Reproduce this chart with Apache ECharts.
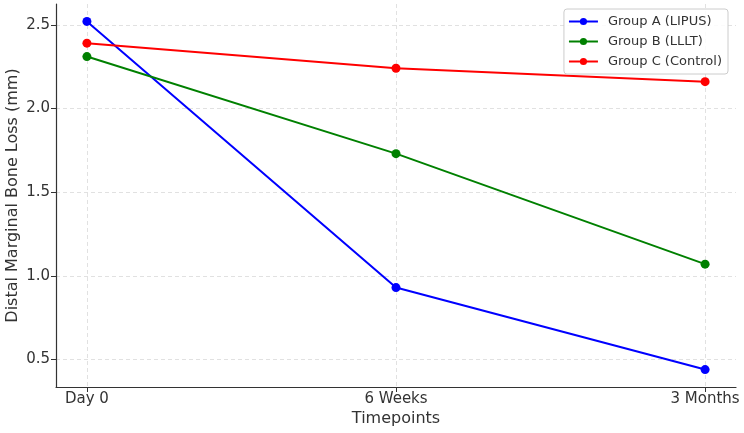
<!DOCTYPE html>
<html><head><meta charset="utf-8">
<script src="https://cdn.jsdelivr.net/npm/echarts@6/dist/echarts.min.js"></script>
<style>html,body{margin:0;padding:0;background:#fff}#c{width:744px;height:433px}</style>
</head><body><div id="c"></div>
<script>
const categories = ['Day 0', '6 Weeks', '3 Months'];
const groupA = [2.52, 0.93, 0.44];
const groupB = [2.31, 1.73, 1.07];
const groupC = [2.39, 2.24, 2.16];
const seriesNames = ['Group A (LIPUS)', 'Group B (LLLT)', 'Group C (Control)'];
const colors = ['#0000ff', '#008000', '#ff0000'];
const xTicks = [0, 1, 2];
const yTicks = [0.5, 1.0, 1.5, 2.0, 2.5];

const font = 'DejaVu Sans';
const chart = echarts.init(document.getElementById('c'), null, {renderer: 'canvas'});
const mk = (name, vals, color) => ({
  name, type: 'line', data: vals.map((v, i) => [i, v]),
  symbol: 'circle', symbolSize: 9, color,
  lineStyle: {width: 2, color}, itemStyle: {color},
  emphasis: {disabled: true}, z: 3
});
chart.setOption({
  animation: false,
  textStyle: {fontFamily: font},
  grid: {left: 56, right: 8, top: 4, bottom: 46, containLabel: false, outerBoundsMode: 'none'},
  legend: {
    orient: 'vertical', right: 16, top: 9,
    data: seriesNames,
    itemWidth: 29, itemHeight: 9, itemGap: 7,
    padding: [6, 6, 6, 4],
    borderColor: '#cccccc', borderWidth: 1, borderRadius: 3,
    backgroundColor: 'rgba(255,255,255,0.85)',
    textStyle: {fontFamily: font, fontSize: 13, color: '#333', padding: [0, 0, 0, 5]}
  },
  xAxis: {
    type: 'value', min: -0.1, max: 2.1,
    name: 'Timepoints', nameLocation: 'middle', nameGap: 24, nameMoveOverlap: false,
    nameTextStyle: {fontFamily: font, fontSize: 16, color: '#333'},
    axisLine: {onZero: false, lineStyle: {color: '#333', width: 1.2}},
    axisTick: {show: true, length: 5, lineStyle: {color: '#333'}, customValues: xTicks},
    axisLabel: {customValues: xTicks, formatter: v => categories[Math.round(v)] || '',
      fontFamily: font, fontSize: 15, color: '#333', margin: 5},
    splitLine: {show: true, lineStyle: {color: '#d9d9d9', type: [4, 3], width: 0.8}}
  },
  yAxis: {
    type: 'value', min: 0.336, max: 2.624,
    name: 'Distal Marginal Bone Loss (mm)', nameLocation: 'middle', nameGap: 35, nameMoveOverlap: false,
    nameTextStyle: {fontFamily: font, fontSize: 16, color: '#333'},
    axisLine: {show: true, onZero: false, lineStyle: {color: '#333', width: 1.2}},
    axisTick: {show: true, length: 5, lineStyle: {color: '#333'}, customValues: yTicks},
    axisLabel: {customValues: yTicks, formatter: v => v.toFixed(1),
      fontFamily: font, fontSize: 15, color: '#333', margin: 6},
    splitLine: {show: true, lineStyle: {color: '#d9d9d9', type: [4, 3], width: 0.8}}
  },
  series: [mk(seriesNames[0], groupA, colors[0]), mk(seriesNames[1], groupB, colors[1]), mk(seriesNames[2], groupC, colors[2])]
});
</script></body></html>
